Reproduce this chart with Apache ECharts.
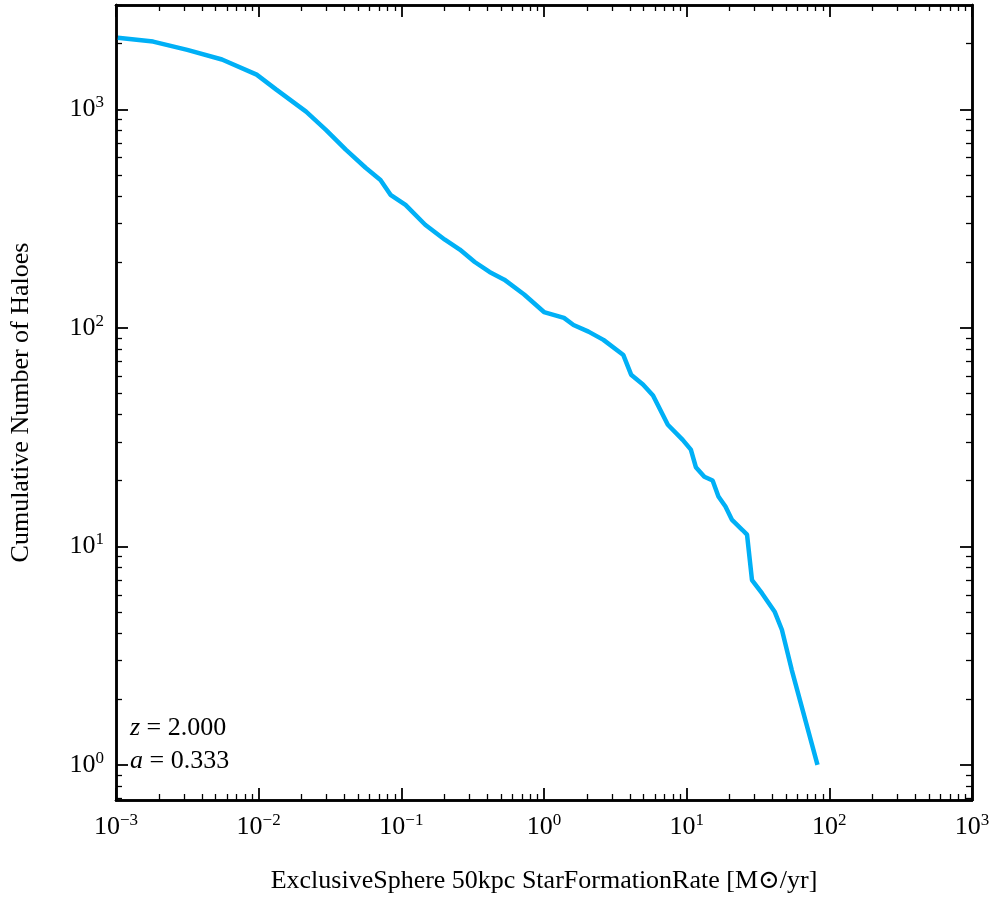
<!DOCTYPE html>
<html>
<head>
<meta charset="UTF-8">
<script src="https://cdn.jsdelivr.net/npm/echarts@6/dist/echarts.min.js"></script>
</head>
<body style="margin:0;">
<div id="chart" style="width:996px;height:900px;"></div>
<script>
var sfr = [0.00103,0.00182,0.00316,0.00553,0.00968,0.0133,0.0215,0.0296,0.0408,0.0562,0.0714,0.084,0.107,0.147,0.202,0.257,0.327,0.415,0.527,0.726,1.0,1.38,1.61,2.05,2.61,3.6,4.08,4.94,5.81,7.38,9.38,10.7,11.6,13.3,15.2,16.7,18.7,20.8,24.5,26.5,28.7,33.7,41.5,46.5,54.5,82.6];
var haloes = [2125,2040,1870,1690,1440,1230,975,805,653,540,475,406,365,296,253,228,200,180,166,142,118,111,103,96,88,75,61,55,49,36,30.7,27.7,23,20.8,20,16.9,15.2,13.2,11.9,11.3,7.0,6.1,5.0,4.15,2.72,1];
var xMajor = [0.001,0.01,0.1,1,10,100,1000];
var yMajor = [1,10,100,1000];

function minors(lo, hi) {
  var out = [];
  for (var e = lo; e < hi; e++) for (var m = 2; m <= 9; m++) out.push(m * Math.pow(10, e));
  return out;
}
var xMinor = minors(-3, 3);
var yMinor = minors(-1, 4).filter(function(v){ return v >= 0.69 && v <= 3000; });

var serif = 'Liberation Serif, DejaVu Serif, serif';
function fmt(v) {
  var e = Math.round(Math.log10(v));
  return '{b|10}{s|' + (e < 0 ? '−' : '') + Math.abs(e) + '}';
}
var rich = {b:{fontSize:26,fontFamily:serif,color:'#000'}, s:{fontSize:17,fontFamily:serif,color:'#000',verticalAlign:'top',padding:[0,0,13,0]}};
var lineS = {show:true, lineStyle:{color:'#000', width:2.5}};

function axisSet(kind, pos, min, max, major, minor, withLabel, name) {
  var base = {type:'log', logBase:10, min:min, max:max, position:pos, splitLine:{show:false}, axisLine:lineS};
  var a = Object.assign({}, base, {
    axisTick:{show:true, inside:true, length:12, lineStyle:{color:'#000', width:1.8}, customValues:major},
    axisLabel:{show:withLabel, formatter:fmt, rich:rich, margin:12, customValues:major}
  });
  if (name) {
    a.name = name; a.nameLocation = 'middle';
    a.nameTextStyle = {fontFamily:serif, fontSize:26, color:'#000'};
    a.nameGap = kind === 'x' ? 68 : 82;
  }
  var b = Object.assign({}, base, {
    axisTick:{show:true, inside:true, length:6, lineStyle:{color:'#000', width:1.3}, customValues:minor},
    axisLabel:{show:false}
  });
  return [a, b];
}

var xs = axisSet('x','bottom',0.001,1000,xMajor,xMinor,true,'ExclusiveSphere 50kpc StarFormationRate [M\u2299/yr]')
  .concat(axisSet('x','top',0.001,1000,xMajor,xMinor,false));
var ys = axisSet('y','left',0.69,3000,yMajor,yMinor,true,'Cumulative Number of Haloes')
  .concat(axisSet('y','right',0.69,3000,yMajor,yMinor,false));

var chart = echarts.init(document.getElementById('chart'));
chart.setOption({
  animation:false,
  backgroundColor:'#fff',
  grid:{left:108, right:24, top:5, bottom:100},
  xAxis: xs,
  yAxis: ys,
  series:[{type:'line', data:sfr.map(function(x,i){return [x, haloes[i]];}), showSymbol:false,
    lineStyle:{color:'#00b0f6', width:4.5}}],
  graphic:[{type:'text', left:130, top:712, style:{
    text:'{i|z} = 2.000\n{i|a} = 0.333', fontFamily:serif, fontSize:26, lineHeight:33, fill:'#000',
    rich:{i:{fontStyle:'italic', fontFamily:serif, fontSize:26}}}}]
});
</script>
</body>
</html>
